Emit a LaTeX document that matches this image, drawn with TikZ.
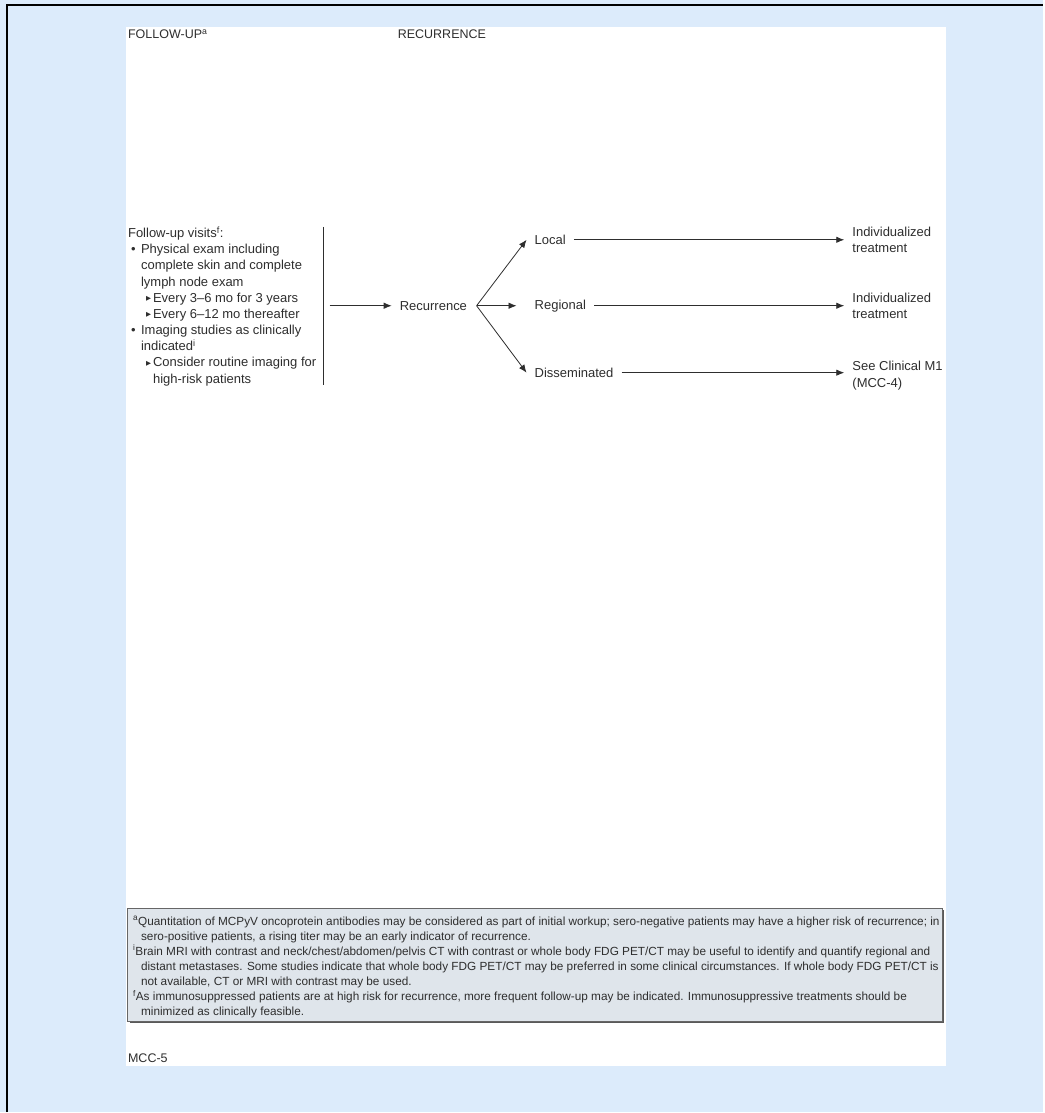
\documentclass[tikz,border=0pt]{standalone}
\usepackage{fontspec}
\setmainfont{Liberation Sans}
\newfontfamily\symfont{DejaVu Sans}
\usetikzlibrary{arrows.meta}
\definecolor{pagebg}{HTML}{DCEBFB}
\definecolor{notebg}{HTML}{DFE5EB}
\definecolor{inkgray}{HTML}{2E2E2E}
\newcommand{\tri}{\raisebox{1.5pt}{\symfont\fontsize{6.5}{6.5}\selectfont ▶}}
\newcommand{\bul}{\makebox[13pt][l]{\hspace{3pt}•}}
\newcommand{\subi}{\hspace*{18pt}\makebox[7pt][l]{\tri}}
\begin{document}
\begin{tikzpicture}[x=1pt, y=-1pt,
    txt/.style={inner xsep=8pt, inner ysep=1pt, align=left, text=inkgray,
      font=\fontsize{13}{16.2}\selectfont},
    head/.style={inner sep=0pt, text=inkgray, font=\fontsize{12.5}{15}\selectfont},
    arr/.style={-{Latex[length=8pt, width=6.5pt]}, line width=0.8pt, inkgray}]
        % page and frame
        \fill[pagebg] (0, 0) rectangle (1044, 1113);
        \draw[line width=2pt] (7, 1113) -- (7, 5) -- (1044, 5);
        \fill[white] (126, 27) rectangle (947, 1067);
        \node[head, anchor=base west] (fu_head) at (128, 39) {FOLLOW-UP\textsuperscript{a}};
        \node[head, anchor=base west] (rec_head) at (398, 39) {RECURRENCE};
        % follow-up block (base = last line)
        \node[txt, inner xsep=0pt, anchor=base west] (fu) at (128, 383.5) {%
            Follow-up visits\textsuperscript{f}:\\
            \bul Physical exam including\\
            \hspace*{13pt}complete skin and complete\\
            \hspace*{13pt}lymph node exam\\
            \subi Every 3--6 mo for 3 years\\
            \subi Every 6--12 mo thereafter\\
            \bul Imaging studies as clinically\\
            \hspace*{13pt}indicated\textsuperscript{i}\\
            \subi Consider routine imaging for\\
            \hspace*{25pt}high-risk patients};
        \coordinate (bar_top) at (324, 227);
        \coordinate (bar_bot) at (324, 385);
        \coordinate (fu_out) at (330, 306);
        \draw[line width=0.8pt, inkgray] (bar_top) -- (bar_bot);
        % recurrence and branches
        \node[txt, anchor=west] (rec) at (392, 306) {Recurrence};
        \coordinate (split) at (477, 306);
        \node[txt, anchor=west] (local) at (527, 240) {Local};
        \node[txt, anchor=west] (regional) at (527, 306) {Regional};
        \node[txt, anchor=west] (dissem) at (527, 373) {Disseminated};
        \node[txt, anchor=west] (treat_a) at (845, 240) {Individualized\\treatment};
        \node[txt, anchor=west] (treat_b) at (845, 306) {Individualized\\treatment};
        \node[txt, anchor=west] (clin_m1) at (845, 376) {See Clinical M1\\(MCC-4)};
        \draw[arr] (fu_out) -- (rec);
        \draw[arr] (split) -- (local.west);
        \draw[arr, shorten >=10pt] (split) -- (regional.west);
        \draw[arr] (split) -- (dissem.west);
        \draw[arr] (local) -- (local -| treat_a.west);
        \draw[arr] (regional) -- (regional -| treat_b.west);
        \draw[arr] (dissem) -- (dissem -| clin_m1.west);
        % footnotes
        \fill[gray!70!black] (130, 911) rectangle (945, 1024);
        \filldraw[fill=notebg, draw=gray!80!black, line width=0.8pt] (128, 909) rectangle (943, 1022);
        \node[inner sep=0pt, anchor=base west, align=left, text=inkgray,
              font=\fontsize{11.8}{15.1}\selectfont] (notes) at (133, 1016.5) {%
            \textsuperscript{a}Quantitation of MCPyV oncoprotein antibodies may be considered as part of initial workup; sero-negative patients may have a higher risk of recurrence; in\\
            \hspace*{8pt}sero-positive patients, a rising titer may be an early indicator of recurrence.\\
            \textsuperscript{i}Brain MRI with contrast and neck/chest/abdomen/pelvis CT with contrast or whole body FDG PET/CT may be useful to identify and quantify regional and\\
            \hspace*{8pt}distant metastases. Some studies indicate that whole body FDG PET/CT may be preferred in some clinical circumstances. If whole body FDG PET/CT is\\
            \hspace*{8pt}not available, CT or MRI with contrast may be used.\\
            \textsuperscript{f}As immunosuppressed patients are at high risk for recurrence, more frequent follow-up may be indicated. Immunosuppressive treatments should be\\
            \hspace*{8pt}minimized as clinically feasible.};
        \node[head, anchor=base west] (page_no) at (128, 1063) {MCC-5};
    \end{tikzpicture}
\end{document}
